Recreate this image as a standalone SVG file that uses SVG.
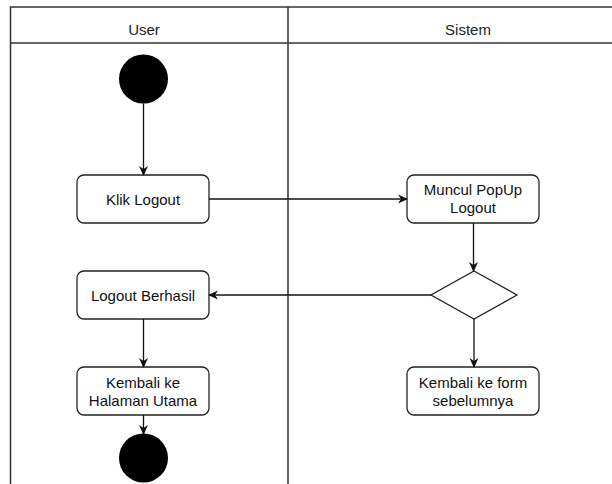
<svg xmlns="http://www.w3.org/2000/svg" width="612" height="484" viewBox="0 0 612 484">
<style>
.lane{fill:none;stroke:#333;stroke-width:1.5}
.box{fill:#fff;stroke:#222;stroke-width:1.3}
.t{font-family:"Liberation Sans",Arial,sans-serif;font-size:15px;fill:#111;text-anchor:middle}
.h{font-family:"Liberation Sans",Arial,sans-serif;font-size:15px;fill:#222;text-anchor:middle}
.c{fill:none;stroke:#111;stroke-width:1.3}
</style>
<defs>
<marker id="arr" viewBox="0 0 10 10" refX="9" refY="5" markerWidth="10" markerHeight="10" markerUnits="userSpaceOnUse" orient="auto">
<path d="M0,0.5 L10,5 L0,9.5 L3,5 Z" fill="#111"/>
</marker>
</defs>
<rect width="612" height="484" fill="#fff"/>
<g id="pool">
<path class="lane" d="M620,7 H10.5 V484 M10.5,43 H620 M288,7 V484"/>
<text class="h" x="144" y="35">User</text>
<text class="h" x="468" y="35">Sistem</text>
</g>
<g id="start"><circle cx="143.5" cy="79" r="24.5" fill="#000"/></g>
<g id="klik"><rect class="box" x="77" y="175" width="132" height="48" rx="7"/><text class="t" x="143" y="204.5">Klik Logout</text></g>
<g id="muncul"><rect class="box" x="407" y="175" width="132" height="48" rx="7"/><text class="t" x="473" y="195">Muncul PopUp</text><text class="t" x="473" y="213">Logout</text></g>
<g id="decision"><polygon class="box" points="474,271 517,295 474,319 431,295"/></g>
<g id="berhasil"><rect class="box" x="77" y="271" width="132" height="48" rx="7"/><text class="t" x="143" y="300.5">Logout Berhasil</text></g>
<g id="kembaliHalaman"><rect class="box" x="77" y="367" width="132" height="48" rx="7"/><text class="t" x="143" y="388">Kembali ke</text><text class="t" x="143" y="405.5">Halaman Utama</text></g>
<g id="kembaliForm"><rect class="box" x="407" y="367" width="132" height="48" rx="7"/><text class="t" x="473" y="388">Kembali ke form</text><text class="t" x="473" y="405.5">sebelumnya</text></g>
<g id="end"><circle cx="143.5" cy="458" r="24.5" fill="#000"/></g>
<g id="connectors">
<path class="c" d="M143.5,103.5 V175" marker-end="url(#arr)"/>
<path class="c" d="M209,199 H407" marker-end="url(#arr)"/>
<path class="c" d="M473.5,223 V271" marker-end="url(#arr)"/>
<path class="c" d="M431,295 H209" marker-end="url(#arr)"/>
<path class="c" d="M474,319 V367" marker-end="url(#arr)"/>
<path class="c" d="M143.5,319 V367" marker-end="url(#arr)"/>
<path class="c" d="M143.5,415 V434" marker-end="url(#arr)"/>
</g>
</svg>
